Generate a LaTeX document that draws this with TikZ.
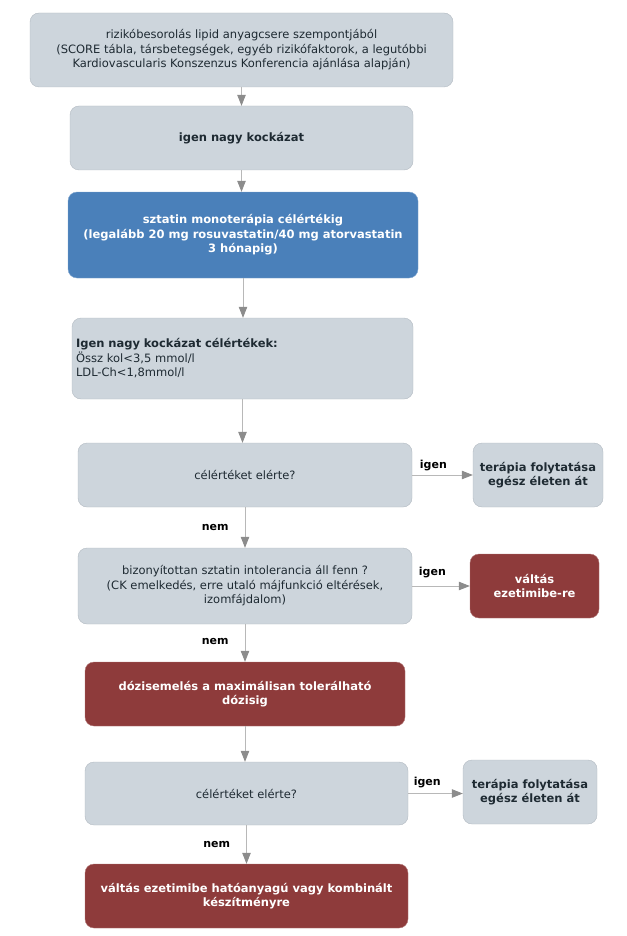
\documentclass[tikz,border=0pt]{standalone}
\usepackage{fontspec}
\setmainfont{DejaVu Sans}
\usetikzlibrary{arrows.meta}
\definecolor{boxgray}{HTML}{CDD5DC}
\definecolor{boxline}{HTML}{B2BAC2}
\definecolor{boxblue}{HTML}{4A80BA}
\definecolor{boxred}{HTML}{8E3B3B}
\definecolor{linegray}{HTML}{B8B8B8}
\definecolor{tipgray}{HTML}{8C8C8C}
\definecolor{textdark}{HTML}{1E2A32}

\begin{document}
\begin{tikzpicture}[x=1pt, y=-1pt,
		box/.style={draw=boxline, fill=boxgray, rounded corners=9pt, align=center, text=textdark, inner sep=3pt, font=\fontsize{11.5}{14.5}\selectfont},
		bluebox/.style={box, draw=boxblue!70!white, fill=boxblue, text=white, font=\fontsize{11.5}{14.5}\selectfont\bfseries},
		redbox/.style={box, draw=boxred!70!white, fill=boxred, text=white, font=\fontsize{11.5}{14.5}\selectfont\bfseries},
		arr/.style={draw=linegray, line width=0.8pt, -{Triangle[width=8.5pt, length=11pt, color=tipgray]}},
		lbl/.style={text=black, inner sep=2pt, font=\fontsize{11}{13}\selectfont\bfseries}]
		%%%%% START %%%%%
		
		\useasboundingbox (0, 0) rectangle (626, 936);
		
		\node[box, minimum width=423pt, minimum height=74pt] (risk) at (241.5, 50) {rizikóbesorolás lipid anyagcsere szempontjából\\(SCORE tábla, társbetegségek, egyéb rizikófaktorok, a legutóbbi\\Kardiovascularis Konszenzus Konferencia ajánlása alapján)};
		\node[box, minimum width=343pt, minimum height=64pt, font=\fontsize{11.5}{14.5}\selectfont\bfseries] (high) at (241.5, 138) {igen nagy kockázat};
		\node[bluebox, minimum width=350pt, minimum height=86pt] (statin) at (243, 235) {sztatin monoterápia célértékig\\(legalább 20 mg rosuvastatin/40 mg atorvastatin\\3 hónapig)};
		
		\node[box, text width=333pt, align=left, inner sep=4pt, minimum height=81pt] (goals) at (242.5, 358.5) {\textbf{Igen nagy kockázat célértékek:}\\Össz kol<3,5 mmol/l\\LDL-Ch<1,8mmol/l\\[-8pt]};
		
		\node[box, minimum width=334pt, minimum height=64pt] (reachA) at (245, 475) {célértéket elérte?};
		\node[box, minimum width=130pt, minimum height=64pt, font=\fontsize{11.5}{14.5}\selectfont\bfseries] (keepA) at (538, 475) {terápia folytatása\\egész életen át};
		
		\node[box, minimum width=334pt, minimum height=76pt] (intol) at (245, 586) {bizonyítottan sztatin intolerancia áll fenn ?\\(CK emelkedés, erre utaló májfunkció eltérések,\\izomfájdalom)};
		\node[redbox, minimum width=129pt, minimum height=64pt] (ezeA) at (534.5, 586) {váltás\\ezetimibe-re};
		
		\node[redbox, minimum width=320pt, minimum height=64pt] (dose) at (245, 694) {dózisemelés a maximálisan tolerálható\\dózisig};
		
		\node[box, minimum width=323pt, minimum height=63pt] (reachB) at (246.5, 793.5) {célértéket elérte?};
		\node[box, minimum width=134pt, minimum height=64pt, font=\fontsize{11.5}{14.5}\selectfont\bfseries] (keepB) at (530, 792) {terápia folytatása\\egész életen át};
		
		\node[redbox, minimum width=323pt, minimum height=64pt] (ezeB) at (246.5, 896) {váltás ezetimibe hatóanyagú vagy kombinált\\készítményre};
		
		\draw[arr] (risk.south) -- (risk.south |- high.north);
		\draw[arr] (high.south) -- (high.south |- statin.north);
		\draw[arr] (statin.south) -- (statin.south |- goals.north);
		\draw[arr] (goals.south) -- (goals.south |- reachA.north);
		
		\draw[arr] (reachA.east) -- node[lbl, above, pos=0.35, yshift=2pt] {igen} (keepA.west);
		\draw[arr] (reachA.south) -- node[lbl, left=14pt] {nem} (intol.north);
		
		\draw[arr] (intol.east) -- node[lbl, above, pos=0.35, yshift=6pt] {igen} (ezeA.west);
		\draw[arr] (intol.south) -- node[lbl, left=14pt, pos=0.45] {nem} (intol.south |- dose.north);
		
		\draw[arr] (dose.south) -- (dose.south |- reachB.north);
		
		\draw[arr] (reachB.east) -- node[lbl, above, pos=0.35, yshift=3pt] {igen} (reachB.east -| keepB.west);
		\draw[arr] (reachB.south) -- node[lbl, left=14pt] {nem} (ezeB.north);
		
		%%%%% END %%%%%
	\end{tikzpicture}
\end{document}
